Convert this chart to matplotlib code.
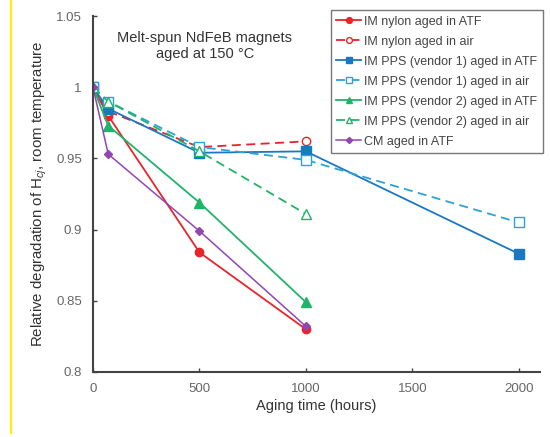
import matplotlib
matplotlib.use("Agg")
import matplotlib.pyplot as plt
from matplotlib.lines import Line2D

plt.rcParams['font.family'] = ['Liberation Sans', 'DejaVu Sans']
plt.rcParams['mathtext.fontset'] = 'custom'
plt.rcParams['mathtext.rm'] = 'Liberation Sans'
plt.rcParams['mathtext.it'] = 'Liberation Sans:italic'

t_short = [0, 72, 500, 1000]
t_long = [0, 72, 500, 1000, 2000]

nylon_atf = [1.0, 0.980, 0.884, 0.830]
nylon_air = [1.0, 0.983, 0.958, 0.962]
pps1_atf = [1.0, 0.985, 0.954, 0.955, 0.883]
pps1_air = [1.0, 0.990, 0.958, 0.949, 0.905]
pps2_atf = [1.0, 0.973, 0.919, 0.849]
pps2_air = [1.0, 0.990, 0.955, 0.911]
cm_atf = [1.0, 0.953, 0.899, 0.832]

labels = ["IM nylon aged in ATF", "IM nylon aged in air",
          "IM PPS (vendor 1) aged in ATF", "IM PPS (vendor 1) aged in air",
          "IM PPS (vendor 2) aged in ATF", "IM PPS (vendor 2) aged in air",
          "CM aged in ATF"]

red = "#e8242a"
blue = "#1a78c2"
cyan = "#2ba3d6"
green = "#20b36a"
purple = "#9146b0"

fig = plt.figure(figsize=(5.5, 4.37), dpi=100)
ax = fig.add_axes([0.169, 0.149, 0.813, 0.814])

ax.plot(t_short, nylon_atf, color=red, marker="o", ms=6, lw=1.3, label=labels[0])
ax.plot(t_short, nylon_air, color=red, marker="o", ms=6, mfc="white", lw=1.3, ls=(0, (5, 3)), label=labels[1])
ax.plot(t_long, pps1_atf, color=blue, marker="s", ms=6.5, lw=1.3, label=labels[2])
ax.plot(t_long, pps1_air, color=cyan, marker="s", ms=6.5, mfc="white", lw=1.3, ls=(0, (5, 3)), label=labels[3])
ax.plot(t_short, pps2_atf, color=green, marker="^", ms=6.5, lw=1.3, label=labels[4])
ax.plot(t_short, pps2_air, color=green, marker="^", ms=6.5, mfc="white", lw=1.3, ls=(0, (5, 3)), label=labels[5])
ax.plot(t_short, cm_atf, color=purple, marker="D", ms=4.5, lw=1.1, label=labels[6])

ax.set_xlim(0, 2100)
ax.set_ylim(0.8, 1.05)
ax.set_xticks([0, 500, 1000, 1500, 2000])
ax.set_yticks([0.8, 0.85, 0.9, 0.95, 1.0, 1.05])
ax.set_yticklabels(["0.8", "0.85", "0.9", "0.95", "1", "1.05"])
ax.tick_params(direction="in", length=3, labelsize=9.5, labelcolor="#666666", color="#444444", width=1)
ax.tick_params(axis="x", pad=8)
ax.tick_params(axis="y", pad=8)
for s in ["top", "right"]:
    ax.spines[s].set_visible(False)
for s in ["left", "bottom"]:
    ax.spines[s].set_color("#444444")
    ax.spines[s].set_linewidth(1.5)

ax.set_xlabel("Aging time (hours)", fontsize=10.5, color="#333333", labelpad=3)
ax.set_ylabel("Relative degradation of H$_{cj}$, room temperature", fontsize=10.8, color="#333333", labelpad=5)

ax.text(525, 1.029, "Melt-spun NdFeB magnets\naged at 150 \u00b0C", ha="center", va="center",
        fontsize=10.5, color="#333333", linespacing=1.25)

leg = ax.legend(loc="upper right", bbox_to_anchor=(543 / 550, 1 - 10 / 437),
                bbox_transform=fig.transFigure, borderaxespad=0,
                fontsize=9, frameon=True,
                fancybox=False, edgecolor="#555555", handlelength=2.0, handletextpad=0.25,
                borderpad=0.45, labelspacing=0.64, markerscale=0.7)
leg.get_frame().set_linewidth(1.0)
for txt in leg.get_texts():
    txt.set_color("#444444")

fig.add_artist(Line2D([0.02, 0.02], [0.01, 1.0], color="#ffee00", lw=1.5, transform=fig.transFigure))

fig.savefig("out.png", dpi=100)
